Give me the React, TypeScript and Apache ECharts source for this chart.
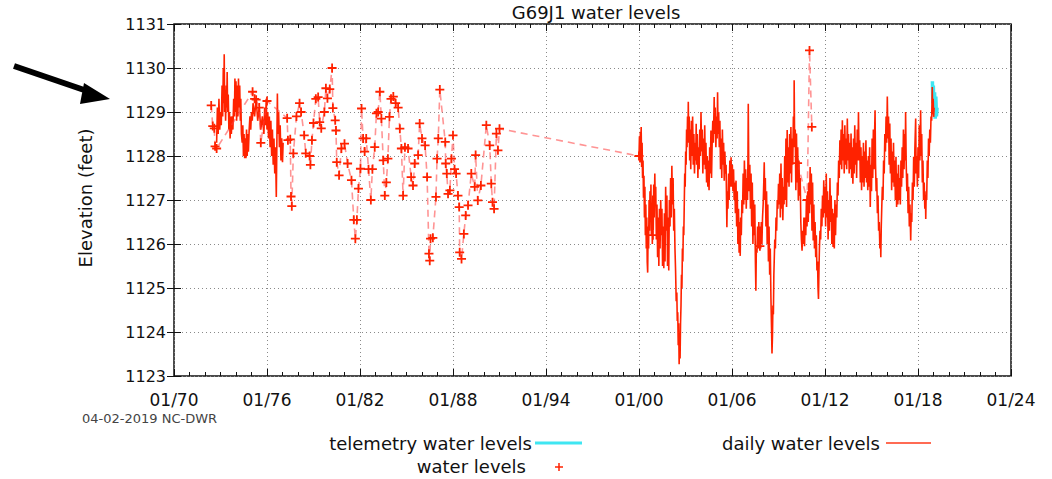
import React, { useEffect, useRef } from 'react';
import * as echarts from 'echarts';

const BASE_YEAR = 1970;
const X_TICK_LABELS = ['01/70', '01/76', '01/82', '01/88', '01/94', '01/00', '01/06', '01/12', '01/18', '01/24'];
const TITLE = 'G69J1 water levels';
const Y_NAME = 'Elevation (feet)';
const STAMP = '04-02-2019 NC-DWR';

// periodic (manual) water levels: [decimal year, elevation]
const waterLevels: [number, number][] = [
  [1972.4, 1129.15], [1972.5, 1128.68], [1972.6, 1128.63], [1972.65, 1128.22], [1972.75, 1128.17],
  [1975.07, 1129.46], [1975.2, 1129.3], [1975.3, 1129.28], [1975.5, 1129.1], [1975.6, 1128.3],
  [1976.0, 1129.25], [1977.3, 1128.86], [1977.35, 1128.36], [1977.5, 1128.38], [1977.55, 1127.08],
  [1977.6, 1126.86], [1977.7, 1128.06], [1977.9, 1128.9], [1978.1, 1129.2], [1978.2, 1129.0],
  [1978.4, 1128.47], [1978.5, 1128.06], [1978.75, 1128.0], [1978.8, 1127.8], [1978.9, 1128.36],
  [1979.0, 1128.75], [1979.15, 1129.3], [1979.3, 1129.34], [1979.4, 1128.77], [1979.5, 1128.63],
  [1979.7, 1129.0], [1979.8, 1129.54], [1979.9, 1129.31], [1980.05, 1129.52], [1980.2, 1130.0],
  [1980.25, 1129.09], [1980.4, 1128.81], [1980.45, 1128.58], [1980.5, 1127.86], [1980.65, 1127.56],
  [1980.8, 1128.17], [1981.0, 1128.28], [1981.2, 1127.83], [1981.45, 1127.45], [1981.6, 1126.55],
  [1981.7, 1126.12], [1981.8, 1126.55], [1981.9, 1127.26], [1982.03, 1127.71], [1982.1, 1129.08],
  [1982.2, 1128.4], [1982.3, 1128.1], [1982.4, 1128.4], [1982.55, 1127.7], [1982.7, 1127.0],
  [1982.8, 1127.7], [1982.95, 1128.2], [1983.06, 1128.97], [1983.17, 1129.0], [1983.28, 1129.46],
  [1983.38, 1128.85], [1983.5, 1127.9], [1983.6, 1127.1], [1983.7, 1127.4], [1983.8, 1127.94],
  [1983.9, 1128.89], [1984.0, 1129.3], [1984.15, 1129.35], [1984.3, 1129.2], [1984.46, 1129.1],
  [1984.57, 1128.62], [1984.67, 1128.17], [1984.78, 1127.1], [1984.9, 1128.2], [1985.1, 1128.17],
  [1985.3, 1127.52], [1985.42, 1127.33], [1985.53, 1127.83], [1985.75, 1128.02], [1985.85, 1128.74],
  [1986.0, 1128.4], [1986.2, 1128.24], [1986.33, 1127.52], [1986.45, 1125.78], [1986.5, 1125.62],
  [1986.55, 1126.12], [1986.7, 1126.14], [1986.9, 1127.07], [1986.97, 1127.94], [1987.05, 1128.4],
  [1987.15, 1129.51], [1987.5, 1128.32], [1987.53, 1127.83], [1987.6, 1127.6], [1987.68, 1127.14],
  [1987.8, 1127.22], [1987.9, 1127.94], [1988.0, 1128.47], [1988.1, 1127.7], [1988.2, 1127.6],
  [1988.32, 1127.1], [1988.4, 1126.84], [1988.43, 1125.81], [1988.55, 1125.66], [1988.7, 1126.23],
  [1988.82, 1126.65], [1988.97, 1126.88], [1989.18, 1127.6], [1989.4, 1127.3], [1989.46, 1128.02],
  [1989.6, 1126.99], [1989.8, 1127.33], [1990.15, 1128.7], [1990.37, 1128.24], [1990.47, 1127.37],
  [1990.55, 1126.95], [1990.65, 1126.8], [1990.8, 1128.51], [1990.9, 1128.13], [1991.0, 1128.62],
  [2000.0, 1128.0],
];

// later periodic readings that sit inside the daily record
const waterLevelsLate: [number, number][] = [
  [2010.23, 1127.84], [2010.85, 1127.0], [2011.0, 1130.4], [2011.15, 1128.66],
];
const waterLevelsIsolated: [number, number][] = [
  [2000.9, 1126.2], [2007.8, 1125.95],
];

// daily water levels, 1970s record
const daily1970s: [number, number][] = [
  [1972.75, 1128.3], [1972.8, 1129.1], [1972.85, 1128.5], [1972.9, 1129.3], [1972.95, 1128.6],
  [1973.0, 1129.0], [1973.05, 1128.7], [1973.1, 1129.6], [1973.14, 1128.9], [1973.18, 1130.0],
  [1973.21, 1129.2], [1973.24, 1130.31], [1973.27, 1129.0], [1973.3, 1129.5], [1973.33, 1128.8],
  [1973.37, 1129.6], [1973.4, 1129.1], [1973.43, 1129.91], [1973.46, 1129.0], [1973.5, 1129.4],
  [1973.54, 1128.6], [1973.58, 1129.0], [1973.62, 1128.4], [1973.66, 1128.9], [1973.7, 1128.5],
  [1973.75, 1128.9], [1973.8, 1128.6], [1973.85, 1129.3], [1973.9, 1128.9], [1973.93, 1129.76],
  [1973.97, 1129.0], [1974.0, 1129.7], [1974.04, 1128.8], [1974.08, 1129.6], [1974.12, 1128.9],
  [1974.16, 1129.76], [1974.2, 1129.1], [1974.24, 1129.6], [1974.28, 1128.8], [1974.31, 1129.3],
  [1974.35, 1128.5], [1974.4, 1128.3], [1974.44, 1128.7], [1974.48, 1128.0], [1974.52, 1128.5],
  [1974.56, 1127.95], [1974.6, 1128.4], [1974.64, 1127.95], [1974.68, 1128.6], [1974.72, 1128.0],
  [1974.76, 1128.5], [1974.8, 1128.1], [1974.85, 1128.6], [1974.9, 1128.9], [1974.95, 1128.6],
  [1975.0, 1129.0], [1975.05, 1128.8], [1975.1, 1129.2], [1975.2, 1128.9], [1975.3, 1129.3],
  [1975.4, 1128.8], [1975.5, 1129.1], [1975.6, 1128.6], [1975.7, 1128.9], [1975.8, 1128.5],
  [1975.85, 1129.1], [1975.9, 1128.7], [1975.95, 1129.3], [1976.0, 1128.6], [1976.05, 1129.0],
  [1976.1, 1128.4], [1976.15, 1128.9], [1976.2, 1128.2], [1976.25, 1128.8], [1976.3, 1128.0],
  [1976.35, 1128.6], [1976.4, 1127.8], [1976.45, 1128.4], [1976.5, 1127.6], [1976.55, 1128.2],
  [1976.6, 1127.07], [1976.64, 1128.4], [1976.67, 1129.42], [1976.7, 1128.5], [1976.75, 1129.0],
  [1976.8, 1128.2], [1976.85, 1128.7], [1976.9, 1127.9], [1976.95, 1128.4], [1977.0, 1127.86],
  [1977.04, 1128.3],
];

// daily water levels, 2000 onward
const daily2000s: [number, number][] = [
  [2000.00, 1128.00], [2000.03, 1128.45], [2000.06, 1127.85], [2000.09, 1128.55], [2000.12, 1128.05],
  [2000.14, 1128.66], [2000.17, 1127.75], [2000.20, 1128.30], [2000.23, 1127.50], [2000.26, 1127.90],
  [2000.29, 1127.05], [2000.32, 1127.55], [2000.35, 1126.60], [2000.38, 1127.30], [2000.41, 1126.20],
  [2000.44, 1126.90], [2000.47, 1125.90], [2000.50, 1126.60], [2000.53, 1125.60], [2000.56, 1125.35],
  [2000.59, 1126.40], [2000.62, 1125.90], [2000.65, 1127.00], [2000.68, 1126.30], [2000.71, 1127.20],
  [2000.74, 1126.50], [2000.77, 1127.35], [2000.80, 1126.20], [2000.83, 1126.90], [2000.86, 1126.00],
  [2000.89, 1127.10], [2000.92, 1126.30], [2000.95, 1127.35], [2000.98, 1126.60], [2001.02, 1127.60],
  [2001.05, 1126.90], [2001.08, 1127.30], [2001.12, 1126.10], [2001.16, 1126.90], [2001.20, 1125.70],
  [2001.24, 1126.60], [2001.28, 1125.50], [2001.32, 1126.80], [2001.36, 1125.90], [2001.40, 1127.00],
  [2001.44, 1126.20], [2001.48, 1126.80], [2001.52, 1125.50], [2001.56, 1126.40], [2001.60, 1125.45],
  [2001.64, 1126.70], [2001.68, 1125.60], [2001.72, 1127.30], [2001.76, 1126.30], [2001.80, 1127.10],
  [2001.84, 1125.50], [2001.88, 1126.60], [2001.92, 1125.40], [2001.96, 1127.00], [2002.00, 1126.40],
  [2002.04, 1127.50], [2002.08, 1126.60], [2002.12, 1127.78], [2002.16, 1126.90], [2002.20, 1127.50],
  [2002.24, 1126.30], [2002.28, 1126.80], [2002.32, 1125.90], [2002.36, 1125.40], [2002.40, 1124.70],
  [2002.44, 1124.90], [2002.47, 1124.25], [2002.50, 1124.45], [2002.53, 1123.70], [2002.56, 1124.20],
  [2002.59, 1123.27], [2002.62, 1123.90], [2002.65, 1123.40], [2002.68, 1124.20], [2002.71, 1124.60],
  [2002.74, 1125.30], [2002.77, 1125.00], [2002.80, 1125.90], [2002.83, 1125.60], [2002.86, 1126.40],
  [2002.89, 1126.20], [2002.92, 1126.90], [2002.95, 1127.60], [2002.98, 1127.30], [2003.01, 1128.10],
  [2003.04, 1127.80], [2003.07, 1128.60], [2003.10, 1128.20], [2003.13, 1128.90], [2003.16, 1128.40],
  [2003.18, 1129.23], [2003.21, 1128.30], [2003.24, 1128.90], [2003.27, 1127.90], [2003.30, 1128.60],
  [2003.34, 1127.70], [2003.38, 1128.80], [2003.42, 1128.00], [2003.46, 1128.90], [2003.50, 1127.80],
  [2003.54, 1128.50], [2003.58, 1127.60], [2003.62, 1128.30], [2003.66, 1127.90], [2003.69, 1128.73],
  [2003.72, 1127.80], [2003.76, 1128.50], [2003.80, 1127.50], [2003.84, 1128.20], [2003.88, 1127.70],
  [2003.92, 1128.60], [2003.96, 1128.00], [2004.00, 1129.00], [2004.04, 1128.10], [2004.08, 1128.60],
  [2004.12, 1127.60], [2004.16, 1128.40], [2004.20, 1127.80], [2004.24, 1128.70], [2004.28, 1127.70],
  [2004.32, 1128.30], [2004.36, 1127.40], [2004.40, 1128.00], [2004.44, 1127.30], [2004.48, 1127.90],
  [2004.52, 1127.22], [2004.56, 1128.20], [2004.60, 1127.60], [2004.64, 1128.58], [2004.68, 1127.50],
  [2004.72, 1128.30], [2004.76, 1128.80], [2004.80, 1128.30], [2004.85, 1129.34], [2004.88, 1128.50],
  [2004.92, 1129.10], [2004.96, 1128.20], [2005.00, 1128.90], [2005.04, 1128.40], [2005.07, 1129.45],
  [2005.10, 1128.50], [2005.14, 1129.00], [2005.18, 1128.20], [2005.22, 1128.80], [2005.26, 1127.70],
  [2005.30, 1128.40], [2005.34, 1127.50], [2005.38, 1128.60], [2005.42, 1127.80], [2005.46, 1128.30],
  [2005.50, 1127.44], [2005.54, 1128.10], [2005.58, 1127.60], [2005.62, 1127.80], [2005.65, 1126.90],
  [2005.67, 1126.38], [2005.70, 1127.20], [2005.74, 1126.80], [2005.78, 1127.60], [2005.82, 1127.00],
  [2005.86, 1127.90], [2005.90, 1127.30], [2005.94, 1127.97], [2005.98, 1127.30], [2006.02, 1127.80],
  [2006.06, 1127.20], [2006.10, 1127.70], [2006.14, 1127.00], [2006.18, 1127.40], [2006.22, 1126.70],
  [2006.26, 1127.44], [2006.30, 1126.40], [2006.34, 1127.20], [2006.38, 1126.00], [2006.42, 1126.80],
  [2006.46, 1125.80], [2006.50, 1126.50], [2006.53, 1125.73], [2006.56, 1126.60], [2006.60, 1126.20],
  [2006.64, 1127.00], [2006.68, 1126.70], [2006.72, 1127.60], [2006.76, 1126.90], [2006.80, 1127.90],
  [2006.84, 1127.00], [2006.88, 1127.70], [2006.92, 1126.80], [2006.96, 1127.50], [2007.00, 1127.00],
  [2007.03, 1128.00], [2007.05, 1129.19], [2007.08, 1127.80], [2007.11, 1127.20], [2007.15, 1127.80],
  [2007.19, 1126.80], [2007.23, 1127.60], [2007.27, 1126.40], [2007.31, 1127.40], [2007.35, 1126.00],
  [2007.39, 1127.00], [2007.43, 1126.20], [2007.47, 1126.90], [2007.51, 1125.60], [2007.54, 1124.94],
  [2007.57, 1125.90], [2007.61, 1125.80], [2007.65, 1126.40], [2007.69, 1125.90], [2007.73, 1126.50],
  [2007.77, 1125.95], [2007.81, 1126.40], [2007.85, 1125.90], [2007.89, 1126.50], [2007.93, 1126.00],
  [2007.97, 1126.60], [2008.01, 1126.90], [2008.05, 1127.40], [2008.08, 1127.86], [2008.11, 1127.00],
  [2008.15, 1127.50], [2008.19, 1126.40], [2008.23, 1127.20], [2008.27, 1126.00], [2008.31, 1126.90],
  [2008.35, 1125.60], [2008.39, 1126.40], [2008.43, 1125.30], [2008.47, 1125.90], [2008.51, 1124.80],
  [2008.55, 1124.10], [2008.58, 1123.51], [2008.61, 1123.90], [2008.64, 1124.60], [2008.67, 1124.40],
  [2008.70, 1125.30], [2008.73, 1125.70], [2008.76, 1126.10], [2008.80, 1125.90], [2008.84, 1126.60],
  [2008.88, 1126.30], [2008.92, 1127.00], [2008.96, 1126.80], [2009.00, 1127.37], [2009.04, 1126.90],
  [2009.08, 1127.60], [2009.12, 1126.60], [2009.16, 1127.83], [2009.20, 1126.80], [2009.24, 1127.50],
  [2009.28, 1126.54], [2009.32, 1127.30], [2009.36, 1126.90], [2009.40, 1128.00], [2009.44, 1127.00],
  [2009.48, 1128.40], [2009.52, 1126.84], [2009.56, 1128.59], [2009.60, 1127.40], [2009.64, 1128.20],
  [2009.68, 1127.30], [2009.72, 1128.50], [2009.76, 1127.60], [2009.80, 1128.66], [2009.84, 1127.40],
  [2009.88, 1128.40], [2009.92, 1127.80], [2009.96, 1128.90], [2010.00, 1128.20], [2010.01, 1129.72],
  [2010.04, 1128.30], [2010.08, 1128.60], [2010.12, 1127.22], [2010.16, 1128.51], [2010.20, 1127.40],
  [2010.24, 1128.20], [2010.28, 1126.99], [2010.32, 1127.90], [2010.36, 1127.10], [2010.40, 1127.50],
  [2010.44, 1126.50], [2010.48, 1126.10], [2010.52, 1125.85], [2010.56, 1126.30], [2010.60, 1126.00],
  [2010.64, 1126.60], [2010.68, 1125.95], [2010.72, 1126.60], [2010.76, 1126.20], [2010.80, 1127.00],
  [2010.84, 1126.40], [2010.88, 1127.20], [2010.92, 1126.50], [2010.96, 1127.40], [2011.00, 1126.70],
  [2011.04, 1127.75], [2011.08, 1126.90], [2011.12, 1127.60], [2011.16, 1126.30], [2011.20, 1127.40],
  [2011.24, 1126.08], [2011.28, 1126.90], [2011.32, 1125.90], [2011.36, 1126.50], [2011.40, 1125.70],
  [2011.44, 1126.20], [2011.48, 1125.40], [2011.52, 1125.60], [2011.55, 1125.00], [2011.58, 1124.75],
  [2011.61, 1125.40], [2011.64, 1125.90], [2011.68, 1126.30], [2011.72, 1126.10], [2011.76, 1126.80],
  [2011.80, 1126.40], [2011.84, 1127.10], [2011.88, 1126.60], [2011.92, 1127.45], [2011.96, 1126.70],
  [2012.00, 1127.30], [2012.04, 1126.40], [2012.08, 1127.60], [2012.12, 1126.60], [2012.16, 1127.20],
  [2012.20, 1126.10], [2012.24, 1127.00], [2012.28, 1126.30], [2012.32, 1127.50], [2012.36, 1126.50],
  [2012.40, 1127.10], [2012.44, 1126.00], [2012.48, 1126.80], [2012.52, 1125.93], [2012.56, 1126.70],
  [2012.60, 1125.90], [2012.64, 1127.00], [2012.68, 1126.20], [2012.72, 1126.90], [2012.76, 1126.60],
  [2012.80, 1127.40], [2012.84, 1127.10], [2012.88, 1127.90], [2012.92, 1127.50], [2012.96, 1128.36],
  [2013.00, 1127.80], [2013.04, 1128.60], [2013.08, 1127.70], [2013.12, 1128.81], [2013.16, 1127.90],
  [2013.20, 1128.50], [2013.24, 1127.60], [2013.28, 1128.70], [2013.32, 1127.80], [2013.36, 1128.40],
  [2013.40, 1127.70], [2013.44, 1128.85], [2013.48, 1127.90], [2013.52, 1128.50], [2013.56, 1127.60],
  [2013.60, 1128.30], [2013.64, 1127.70], [2013.68, 1128.51], [2013.72, 1127.50], [2013.76, 1128.20],
  [2013.80, 1127.37], [2013.84, 1128.40], [2013.88, 1127.60], [2013.92, 1128.70], [2013.96, 1127.80],
  [2014.00, 1128.30], [2014.04, 1127.50], [2014.08, 1128.60], [2014.12, 1127.90], [2014.16, 1129.00],
  [2014.20, 1127.90], [2014.24, 1128.36], [2014.28, 1127.40], [2014.32, 1128.20], [2014.36, 1127.22],
  [2014.40, 1128.00], [2014.44, 1127.40], [2014.48, 1128.30], [2014.52, 1127.30], [2014.56, 1128.10],
  [2014.60, 1127.50], [2014.64, 1128.36], [2014.68, 1127.40], [2014.72, 1127.90], [2014.76, 1127.22],
  [2014.80, 1128.00], [2014.84, 1127.30], [2014.88, 1128.20], [2014.92, 1126.84], [2014.96, 1127.80],
  [2015.00, 1127.20], [2015.04, 1128.40], [2015.08, 1127.50], [2015.12, 1128.60], [2015.16, 1127.70],
  [2015.20, 1128.50], [2015.23, 1129.04], [2015.26, 1127.80], [2015.30, 1127.20], [2015.34, 1127.50],
  [2015.38, 1126.70], [2015.42, 1127.10], [2015.46, 1126.30], [2015.50, 1126.50], [2015.54, 1125.90],
  [2015.58, 1126.20], [2015.60, 1125.70], [2015.63, 1126.40], [2015.66, 1126.80], [2015.70, 1127.30],
  [2015.74, 1127.00], [2015.78, 1127.90], [2015.82, 1127.60], [2015.86, 1128.50], [2015.90, 1128.10],
  [2015.94, 1128.90], [2015.98, 1128.30], [2016.02, 1129.35], [2016.06, 1128.40], [2016.10, 1128.90],
  [2016.14, 1127.80], [2016.18, 1128.74], [2016.22, 1127.60], [2016.26, 1128.40], [2016.30, 1127.22],
  [2016.34, 1128.10], [2016.38, 1127.40], [2016.42, 1128.30], [2016.46, 1127.30], [2016.50, 1127.90],
  [2016.54, 1127.00], [2016.58, 1127.98], [2016.62, 1126.84], [2016.66, 1127.60], [2016.70, 1126.90],
  [2016.74, 1127.80], [2016.78, 1127.00], [2016.82, 1127.50], [2016.86, 1126.90], [2016.90, 1127.90],
  [2016.94, 1127.30], [2016.98, 1128.20], [2017.02, 1127.50], [2017.06, 1128.60], [2017.10, 1127.70],
  [2017.14, 1128.50], [2017.18, 1127.90], [2017.20, 1129.00], [2017.24, 1127.80], [2017.28, 1127.20],
  [2017.32, 1127.60], [2017.36, 1126.70], [2017.40, 1127.30], [2017.44, 1126.40], [2017.48, 1126.90],
  [2017.53, 1126.08], [2017.56, 1126.70], [2017.60, 1126.50], [2017.64, 1127.40], [2017.68, 1127.00],
  [2017.72, 1127.98], [2017.76, 1127.30], [2017.80, 1128.20], [2017.85, 1128.85], [2017.88, 1127.60],
  [2017.92, 1128.00], [2017.96, 1127.30], [2018.00, 1128.20], [2018.04, 1127.50], [2018.08, 1128.70],
  [2018.12, 1127.90], [2018.17, 1129.04], [2018.20, 1128.00], [2018.24, 1128.50], [2018.28, 1127.40],
  [2018.32, 1127.90], [2018.36, 1127.00], [2018.40, 1127.40], [2018.44, 1126.80], [2018.48, 1127.10],
  [2018.50, 1126.57], [2018.53, 1127.20], [2018.56, 1127.00], [2018.60, 1127.90], [2018.64, 1127.50],
  [2018.68, 1128.40], [2018.72, 1128.00], [2018.76, 1128.60], [2018.80, 1128.30], [2018.84, 1128.90],
  [2018.88, 1128.80], [2018.92, 1129.57], [2018.95, 1128.95], [2018.98, 1129.30], [2019.01, 1128.89],
  [2019.04, 1129.10],
];

// telemetry water levels
const telemetryLevels: [number, number][] = [
  [2018.93, 1129.70], [2018.96, 1129.20], [2018.99, 1129.60], [2019.03, 1128.95], [2019.07, 1129.45],
  [2019.11, 1128.85], [2019.15, 1129.35], [2019.19, 1128.90], [2019.23, 1129.10],
];

const toXY = (arr: [number, number][]) => arr.map(([yr, v]) => [yr - BASE_YEAR, v]);

const FONT = 'DejaVu Sans';
const RED = '#ff2200';
const PLUS = 'path://M4,0H6V4H10V6H6V10H4V6H0V4H4Z';

export default function App() {
  const ref = useRef<HTMLDivElement>(null);
  useEffect(() => {
    if (!ref.current) return;
    const chart = echarts.init(ref.current, null, { renderer: 'svg' });
    const xCommon = {
      type: 'value' as const,
      min: 0,
      max: 54,
      interval: 6,
      axisLine: { show: false },
      axisTick: { show: true, inside: true, length: 7, lineStyle: { color: '#111', width: 1 } },
      minorTick: { show: true, splitNumber: 6, length: 4, lineStyle: { color: '#111', width: 1 } },
    };
    const yCommon = {
      type: 'value' as const,
      min: 1123,
      max: 1131,
      interval: 1,
      axisLine: { show: false },
      axisTick: { show: true, inside: true, length: 7, lineStyle: { color: '#111', width: 1 } },
    };
    const dailyStyle = { color: RED, width: 1.6 };
    const plusSeries = (data: number[][], withLine: boolean) => ({
      name: 'water levels',
      type: 'line',
      data,
      symbol: PLUS,
      symbolSize: 9,
      showSymbol: true,
      itemStyle: { color: RED },
      lineStyle: withLine
        ? { color: 'rgba(255,60,60,0.55)', width: 1.6, type: [7, 5] }
        : { width: 0, opacity: 0 },
      z: 4,
    });
    chart.setOption({
      animation: false,
      backgroundColor: '#ffffff',
      grid: {
        left: 174, right: 41, top: 24, bottom: 103,
        show: true, borderColor: '#111', borderWidth: 1.5, backgroundColor: 'transparent',
      },
      xAxis: [
        {
          ...xCommon,
          position: 'bottom',
          axisLabel: {
            margin: 15, fontFamily: FONT, fontSize: 17, color: '#111',
            formatter: (v: number) => X_TICK_LABELS[Math.round(v / 6)] ?? '',
          },
          splitLine: { show: true, lineStyle: { color: '#8a8a8a', width: 1, type: [1, 3] } },
        },
        {
          ...xCommon,
          position: 'top',
          axisLabel: { show: false },
          splitLine: { show: false },
        },
      ],
      yAxis: [
        {
          ...yCommon,
          position: 'left',
          axisLabel: {
            margin: 8, fontFamily: FONT, fontSize: 16, color: '#111',
            formatter: (v: number) => String(v),
          },
          splitLine: { show: true, lineStyle: { color: '#8a8a8a', width: 1, type: [1, 3] } },
        },
        {
          ...yCommon,
          position: 'right',
          axisLabel: { show: false },
          splitLine: { show: false },
        },
      ],
      series: [
        {
          name: 'telemetry water levels',
          type: 'line',
          data: toXY(telemetryLevels),
          showSymbol: false,
          lineStyle: { color: '#3fe6f2', width: 3.5 },
          z: 2,
        },
        {
          name: 'daily water levels',
          type: 'line',
          data: toXY(daily1970s),
          showSymbol: false,
          lineStyle: dailyStyle,
          z: 3,
        },
        {
          name: 'daily water levels',
          type: 'line',
          data: toXY(daily2000s),
          showSymbol: false,
          lineStyle: dailyStyle,
          z: 3,
        },
        plusSeries(toXY(waterLevels), true),
        plusSeries(toXY(waterLevelsLate), true),
        plusSeries(toXY(waterLevelsIsolated), false),
      ],
      graphic: [
        {
          type: 'text', x: 596, y: 12,
          style: { text: TITLE, font: `18px "${FONT}"`, fill: '#111', textAlign: 'center', textVerticalAlign: 'middle' },
        },
        {
          type: 'text', x: 85, y: 198, rotation: Math.PI / 2,
          style: { text: Y_NAME, font: `18px "${FONT}"`, fill: '#111', textAlign: 'center', textVerticalAlign: 'middle' },
        },
        {
          type: 'text', x: 82, y: 418,
          style: { text: STAMP, font: `13px "${FONT}"`, fill: '#444', textAlign: 'left', textVerticalAlign: 'middle' },
        },
        {
          type: 'line', shape: { x1: 14, y1: 66, x2: 90, y2: 92 },
          style: { stroke: '#000', lineWidth: 6 },
        },
        {
          type: 'polygon', shape: { points: [[110, 99], [84, 83], [80, 104]] },
          style: { fill: '#000' },
        },
        {
          type: 'text', x: 532, y: 443,
          style: { text: 'telemetry water levels', font: `18px "${FONT}"`, fill: '#111', textAlign: 'right', textVerticalAlign: 'middle' },
        },
        {
          type: 'line', shape: { x1: 535, y1: 443, x2: 582, y2: 443 },
          style: { stroke: '#3fe6f2', lineWidth: 3 },
        },
        {
          type: 'text', x: 526, y: 466,
          style: { text: 'water levels', font: `18px "${FONT}"`, fill: '#111', textAlign: 'right', textVerticalAlign: 'middle' },
        },
        {
          type: 'line', shape: { x1: 555, y1: 467, x2: 563, y2: 467 },
          style: { stroke: RED, lineWidth: 1.5 },
        },
        {
          type: 'line', shape: { x1: 559, y1: 463, x2: 559, y2: 471 },
          style: { stroke: RED, lineWidth: 1.5 },
        },
        {
          type: 'text', x: 880, y: 443,
          style: { text: 'daily water levels', font: `18px "${FONT}"`, fill: '#111', textAlign: 'right', textVerticalAlign: 'middle' },
        },
        {
          type: 'line', shape: { x1: 886, y1: 443, x2: 931, y2: 443 },
          style: { stroke: '#ff3a1a', lineWidth: 1.5 },
        },
      ],
    });
    return () => chart.dispose();
  }, []);
  return (
    <div
      ref={ref}
      style={{ position: 'absolute', left: 0, top: 0, width: 1052, height: 479, background: '#fff' }}
    />
  );
}
